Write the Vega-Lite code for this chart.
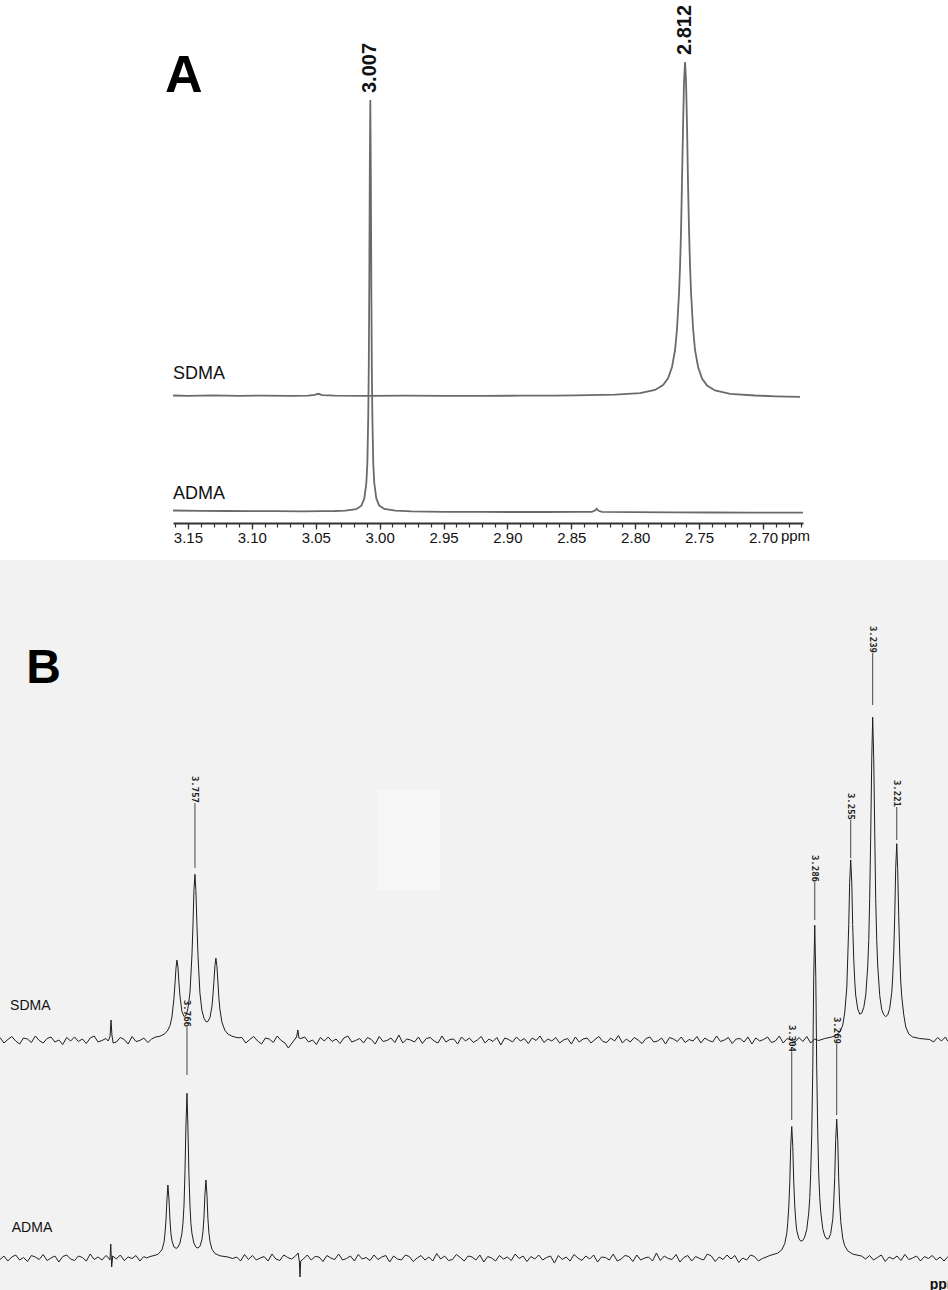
{
"$schema": "https://vega.github.io/schema/vega-lite/v6.json",
"width": 948, "height": 1290, "autosize": {"type": "none"}, "padding": 0,
"background": "white",
"config": {"view": {"stroke": null}, "axis": {"grid": false}},
"datasets": {
"aS": [
{"p":3.1617,"v":0.5},{"p":3.15,"v":0.2},{"p":3.13,"v":0.6},{"p":3.11,"v":0.1},{"p":3.09,"v":0.4},{"p":3.07,"v":0.2},{"p":3.056,"v":0.4},{"p":3.051,"v":1.2},{"p":3.048,"v":2.2},{"p":3.045,"v":0.8},{"p":3.035,"v":0.3},{"p":3.01,"v":0.2},{"p":2.98,"v":0.3},{"p":2.95,"v":0.1},{"p":2.92,"v":0.2},{"p":2.89,"v":0.3},{"p":2.865,"v":0.3},{"p":2.8471,"v":0.6},{"p":2.8158,"v":1.3},{"p":2.7962,"v":2.8},{"p":2.7845,"v":6},{"p":2.7782,"v":10.9},{"p":2.7743,"v":17.7},{"p":2.7712,"v":29},{"p":2.7688,"v":46},{"p":2.7673,"v":67},{"p":2.7657,"v":103},{"p":2.7649,"v":130},{"p":2.7641,"v":167},{"p":2.7634,"v":214},{"p":2.7626,"v":267},{"p":2.7618,"v":314},{"p":2.761,"v":334},{"p":2.7602,"v":314},{"p":2.7594,"v":267},{"p":2.7587,"v":214},{"p":2.7579,"v":167},{"p":2.7571,"v":130},{"p":2.7563,"v":103},{"p":2.7547,"v":67},{"p":2.7532,"v":46},{"p":2.7508,"v":29},{"p":2.7477,"v":17.5},{"p":2.7438,"v":10.5},{"p":2.7375,"v":5.5},{"p":2.7258,"v":2.2},{"p":2.7062,"v":0.5},{"p":2.69,"v":-0.3},{"p":2.6711,"v":-0.8}
],
"aA": [
{"p":3.1617,"v":1.5},{"p":3.14,"v":1.2},{"p":3.12,"v":1.0},{"p":3.10,"v":0.8},{"p":3.08,"v":0.9},{"p":3.06,"v":0.6},{"p":3.045,"v":0.8},{"p":3.035,"v":1.0},{"p":3.0269,"v":1.4},{"p":3.0183,"v":2.8},{"p":3.0143,"v":6.3},{"p":3.012,"v":13.5},{"p":3.0104,"v":29},{"p":3.0096,"v":49},{"p":3.0089,"v":96},{"p":3.0085,"v":144},{"p":3.0081,"v":226},{"p":3.0077,"v":341},{"p":3.0073,"v":412},{"p":3.0069,"v":341},{"p":3.0065,"v":226},{"p":3.0061,"v":144},{"p":3.0057,"v":96},{"p":3.005,"v":49},{"p":3.0042,"v":29},{"p":3.0026,"v":13.6},{"p":3.0003,"v":6.4},{"p":2.9963,"v":3.0},{"p":2.9877,"v":1.3},{"p":2.975,"v":0.6},{"p":2.95,"v":0.2},{"p":2.92,"v":0.1},{"p":2.90,"v":0},{"p":2.87,"v":0},{"p":2.845,"v":0.1},{"p":2.834,"v":0.2},{"p":2.8315,"v":1.5},{"p":2.8301,"v":3.2},{"p":2.8287,"v":1.2},{"p":2.826,"v":0.1},{"p":2.80,"v":-0.2},{"p":2.77,"v":-0.3},{"p":2.74,"v":-0.5},{"p":2.71,"v":-0.6},{"p":2.6687,"v":-0.7}
],
"bS": [
{"p":3.909,"v":2.5},{"p":3.906,"v":-3},{"p":3.903,"v":0.5},{"p":3.9,"v":3.5},{"p":3.897,"v":-1},{"p":3.894,"v":-4},{"p":3.891,"v":2},{"p":3.888,"v":1},{"p":3.885,"v":-2.5},{"p":3.882,"v":4},{"p":3.879,"v":-0.5},{"p":3.876,"v":-3},{"p":3.873,"v":1.5},{"p":3.87,"v":3},{"p":3.867,"v":-2},{"p":3.864,"v":0},{"p":3.861,"v":-4.5},{"p":3.858,"v":2.5},{"p":3.855,"v":-1},{"p":3.852,"v":3},{"p":3.849,"v":-1.5},{"p":3.846,"v":1},{"p":3.843,"v":-3.5},{"p":3.84,"v":2},{"p":3.837,"v":4},{"p":3.834,"v":-2},{"p":3.831,"v":-0.5},{"p":3.828,"v":1.5},
{"p":3.8262,"v":-1},{"p":3.8248,"v":4},{"p":3.8241,"v":20},{"p":3.8234,"v":5},{"p":3.8225,"v":-3},
{"p":3.82,"v":-2},{"p":3.817,"v":2.5},{"p":3.814,"v":0.5},{"p":3.811,"v":-4},{"p":3.808,"v":3.5},{"p":3.805,"v":-1.5},{"p":3.802,"v":-0.5},{"p":3.799,"v":2},{"p":3.796,"v":-2.5},{"p":3.793,"v":1},{"p":3.79,"v":3},
{"p":3.7867,"v":3.7},{"p":3.7829,"v":6.3},{"p":3.7806,"v":9.9},{"p":3.779,"v":14.4},{"p":3.7775,"v":23},{"p":3.776,"v":41.2},{"p":3.7752,"v":56},{"p":3.7744,"v":71.9},{"p":3.7737,"v":79.9},{"p":3.7729,"v":72.9},{"p":3.7722,"v":57.9},{"p":3.7714,"v":44.3},{"p":3.7699,"v":28.6},{"p":3.7683,"v":23.5},{"p":3.7668,"v":24.5},{"p":3.7653,"v":31.3},{"p":3.7637,"v":47.7},{"p":3.7622,"v":85.1},{"p":3.7614,"v":116},{"p":3.7607,"v":149.5},{"p":3.7599,"v":165.7},{"p":3.7592,"v":149.4},{"p":3.7584,"v":115.6},{"p":3.7576,"v":84.7},{"p":3.7561,"v":46.9},{"p":3.7546,"v":29.7},{"p":3.753,"v":21.8},{"p":3.7515,"v":18.4},{"p":3.7507,"v":18.2},{"p":3.75,"v":18.5},{"p":3.7484,"v":22.5},{"p":3.7469,"v":33.6},{"p":3.7462,"v":44},{"p":3.7454,"v":58.5},{"p":3.7446,"v":74.3},{"p":3.7439,"v":81.8},{"p":3.7431,"v":73.6},{"p":3.7423,"v":57.2},{"p":3.7416,"v":41.8},{"p":3.7408,"v":30.6},{"p":3.7393,"v":17.8},{"p":3.737,"v":9.6},{"p":3.7347,"v":6.0},{"p":3.7316,"v":3.8},{"p":3.727,"v":2.2},
{"p":3.724,"v":2.5},{"p":3.721,"v":-3},{"p":3.718,"v":0.5},{"p":3.715,"v":3.5},{"p":3.712,"v":-1},{"p":3.709,"v":-4},{"p":3.706,"v":2},{"p":3.703,"v":1},{"p":3.7,"v":-2.5},{"p":3.697,"v":4},{"p":3.694,"v":-0.5},{"p":3.691,"v":-3},{"p":3.6885,"v":-8},{"p":3.6822,"v":3},{"p":3.6812,"v":10},{"p":3.6804,"v":2},
{"p":3.679,"v":1.5},{"p":3.676,"v":3},{"p":3.673,"v":-2},{"p":3.67,"v":0},{"p":3.667,"v":-4.5},{"p":3.664,"v":2.5},{"p":3.661,"v":-1},{"p":3.658,"v":3},{"p":3.655,"v":-1.5},{"p":3.652,"v":1},{"p":3.649,"v":-3.5},{"p":3.646,"v":2},{"p":3.643,"v":4},{"p":3.64,"v":-2},{"p":3.637,"v":-0.5},{"p":3.634,"v":1.5},{"p":3.631,"v":-3},{"p":3.628,"v":2.5},{"p":3.625,"v":0.5},{"p":3.622,"v":-4},{"p":3.619,"v":3.5},{"p":3.616,"v":-1.5},{"p":3.613,"v":-0.5},{"p":3.61,"v":2},{"p":3.607,"v":-2.5},{"p":3.604,"v":5},{"p":3.601,"v":-3},{"p":3.598,"v":1},{"p":3.595,"v":0},{"p":3.592,"v":-2},{"p":3.589,"v":3},{"p":3.586,"v":-3.5},{"p":3.583,"v":1.5},{"p":3.58,"v":2.5},{"p":3.577,"v":-1},{"p":3.574,"v":-3},{"p":3.571,"v":4},{"p":3.568,"v":-2},{"p":3.565,"v":0.5},{"p":3.562,"v":1},{"p":3.559,"v":-4},{"p":3.556,"v":3},{"p":3.553,"v":-1},{"p":3.55,"v":2},{"p":3.547,"v":-2.5},{"p":3.544,"v":0},{"p":3.541,"v":3.5},{"p":3.538,"v":-3},{"p":3.535,"v":1},{"p":3.532,"v":-1.5},{"p":3.529,"v":2.5},{"p":3.526,"v":-5},{"p":3.523,"v":2},{"p":3.52,"v":0.5},{"p":3.517,"v":-2},{"p":3.514,"v":3},{"p":3.511,"v":-1},{"p":3.508,"v":1.5},{"p":3.505,"v":-3.5},{"p":3.502,"v":2},{"p":3.499,"v":-0.5},{"p":3.496,"v":4},{"p":3.493,"v":-2.5},{"p":3.49,"v":1},{"p":3.487,"v":-1},{"p":3.484,"v":2.5},{"p":3.481,"v":-3},{"p":3.478,"v":0},{"p":3.475,"v":1.5},{"p":3.472,"v":-4},{"p":3.469,"v":3},{"p":3.466,"v":-2},{"p":3.463,"v":1},{"p":3.46,"v":2},{"p":3.457,"v":-3},{"p":3.454,"v":0.5},{"p":3.451,"v":3.5},{"p":3.448,"v":-1.5},{"p":3.445,"v":-2.5},{"p":3.442,"v":2},{"p":3.439,"v":-1},{"p":3.436,"v":4.5},{"p":3.433,"v":-3},{"p":3.43,"v":1},{"p":3.427,"v":-2},{"p":3.424,"v":2.5},{"p":3.421,"v":0},{"p":3.418,"v":-3.5},{"p":3.415,"v":1.5},{"p":3.412,"v":3},{"p":3.409,"v":-2},{"p":3.406,"v":-1},{"p":3.403,"v":2},{"p":3.4,"v":-4},{"p":3.397,"v":2.5},{"p":3.394,"v":1},{"p":3.391,"v":-1.5},{"p":3.388,"v":3},{"p":3.385,"v":-2.5},{"p":3.382,"v":0.5},{"p":3.379,"v":-1},{"p":3.376,"v":3.5},{"p":3.373,"v":-3},{"p":3.37,"v":2},{"p":3.367,"v":-0.5},{"p":3.364,"v":-2},{"p":3.361,"v":4},{"p":3.358,"v":-1.5},{"p":3.355,"v":0},{"p":3.352,"v":2.5},{"p":3.349,"v":-3.5},{"p":3.346,"v":1},{"p":3.343,"v":1.5},{"p":3.34,"v":-2},{"p":3.337,"v":3},{"p":3.334,"v":-4},{"p":3.331,"v":2},{"p":3.328,"v":-1},{"p":3.325,"v":0.5},{"p":3.322,"v":3},{"p":3.319,"v":-2.5},{"p":3.316,"v":-1},{"p":3.313,"v":4},{"p":3.31,"v":-3},{"p":3.307,"v":1.5},{"p":3.304,"v":0},{"p":3.301,"v":-2},{"p":3.298,"v":2.5},{"p":3.295,"v":-1.5},{"p":3.292,"v":3.5},{"p":3.289,"v":-3},{"p":3.286,"v":1},{"p":3.283,"v":-0.5},
{"p":3.2783,"v":1.5},{"p":3.2729,"v":3},{"p":3.2699,"v":4.5},{"p":3.2676,"v":7},{"p":3.266,"v":10},{"p":3.2645,"v":15},{"p":3.263,"v":27},{"p":3.2614,"v":52},{"p":3.2607,"v":81.1},{"p":3.2599,"v":115.6},{"p":3.2592,"v":157.6},{"p":3.2584,"v":180.1},{"p":3.2576,"v":157.9},{"p":3.2569,"v":115.6},{"p":3.2561,"v":81.2},{"p":3.2553,"v":58.7},{"p":3.2546,"v":44.9},{"p":3.253,"v":31},{"p":3.2515,"v":25.8},{"p":3.25,"v":26.8},{"p":3.2484,"v":32.7},{"p":3.2469,"v":44.9},{"p":3.2454,"v":73.2},{"p":3.2446,"v":99.6},{"p":3.2439,"v":141.5},{"p":3.2431,"v":204.9},{"p":3.2423,"v":281.8},{"p":3.2416,"v":322.8},{"p":3.2408,"v":281.8},{"p":3.24,"v":204.8},{"p":3.2393,"v":141.4},{"p":3.2385,"v":99.5},{"p":3.2377,"v":73},{"p":3.2362,"v":44.4},{"p":3.2347,"v":30.5},{"p":3.2332,"v":25.4},{"p":3.2316,"v":23.4},{"p":3.2301,"v":25},{"p":3.2286,"v":31.4},{"p":3.227,"v":47.4},{"p":3.2263,"v":63},{"p":3.2255,"v":87.9},{"p":3.2247,"v":125.8},{"p":3.224,"v":171.8},{"p":3.2232,"v":196.3},{"p":3.2225,"v":171.2},{"p":3.2217,"v":124.4},{"p":3.2209,"v":85.7},{"p":3.2202,"v":60.1},{"p":3.2194,"v":43.8},{"p":3.2179,"v":25.8},{"p":3.2163,"v":13},{"p":3.214,"v":6},{"p":3.211,"v":3},{"p":3.2056,"v":1.5},{"p":3.198,"v":0.5},
{"p":3.195,"v":-2},{"p":3.192,"v":2.5},{"p":3.189,"v":-1},{"p":3.186,"v":3},{"p":3.184,"v":-1.5}
],
"bA": [
{"p":3.909,"v":-1.5},{"p":3.906,"v":2},{"p":3.903,"v":-3},{"p":3.9,"v":1},{"p":3.897,"v":3},{"p":3.894,"v":-2},{"p":3.891,"v":0.5},{"p":3.888,"v":-3.5},{"p":3.885,"v":2.5},{"p":3.882,"v":1},{"p":3.879,"v":-1.5},{"p":3.876,"v":3.5},{"p":3.873,"v":-2.5},{"p":3.87,"v":0},{"p":3.867,"v":2},{"p":3.864,"v":-4},{"p":3.861,"v":1.5},{"p":3.858,"v":3},{"p":3.855,"v":-1},{"p":3.852,"v":-2.5},{"p":3.849,"v":2},{"p":3.846,"v":0.5},{"p":3.843,"v":-3},{"p":3.84,"v":4},{"p":3.837,"v":-1.5},{"p":3.834,"v":1},{"p":3.831,"v":-2},{"p":3.828,"v":2.5},
{"p":3.8262,"v":0.5},{"p":3.8249,"v":-2},{"p":3.8243,"v":14},{"p":3.8236,"v":-9},{"p":3.8228,"v":2},
{"p":3.82,"v":-1},{"p":3.817,"v":3},{"p":3.814,"v":-2.5},{"p":3.811,"v":1},{"p":3.808,"v":-0.5},{"p":3.805,"v":2.5},{"p":3.802,"v":-3},{"p":3.799,"v":1.5},{"p":3.797,"v":0},
{"p":3.7943,"v":1.4},{"p":3.7882,"v":3.6},{"p":3.7851,"v":8.3},{"p":3.7836,"v":15.6},{"p":3.7829,"v":23.3},{"p":3.7821,"v":37.1},{"p":3.7813,"v":58.6},{"p":3.7806,"v":73},{"p":3.7798,"v":59},{"p":3.779,"v":37.9},{"p":3.7783,"v":24.5},{"p":3.7775,"v":17.3},{"p":3.776,"v":11.1},{"p":3.7744,"v":9.7},{"p":3.7737,"v":9.9},{"p":3.7729,"v":10.8},{"p":3.7714,"v":14.9},{"p":3.7699,"v":24.4},{"p":3.7691,"v":34.4},{"p":3.7683,"v":51.9},{"p":3.7676,"v":83.1},{"p":3.7668,"v":132},{"p":3.766,"v":164.7},{"p":3.7653,"v":132.1},{"p":3.7645,"v":83.2},{"p":3.7637,"v":51.9},{"p":3.763,"v":34.5},{"p":3.7622,"v":24.4},{"p":3.7607,"v":14.8},{"p":3.7592,"v":11.0},{"p":3.7584,"v":10.2},{"p":3.7576,"v":10.0},{"p":3.7561,"v":11.7},{"p":3.7546,"v":18.2},{"p":3.7538,"v":26.1},{"p":3.753,"v":40.4},{"p":3.7523,"v":63},{"p":3.7515,"v":78},{"p":3.7507,"v":62.6},{"p":3.75,"v":39.6},{"p":3.7492,"v":24.8},{"p":3.7484,"v":16.5},{"p":3.7469,"v":8.7},{"p":3.7446,"v":4.5},{"p":3.7408,"v":2.2},{"p":3.7347,"v":1.0},
{"p":3.731,"v":-0.5},{"p":3.728,"v":1},{"p":3.725,"v":-3},{"p":3.722,"v":3.5},{"p":3.719,"v":-1.5},{"p":3.716,"v":2.5},{"p":3.713,"v":-2},{"p":3.71,"v":0},{"p":3.707,"v":1.5},{"p":3.704,"v":-3},{"p":3.701,"v":4},{"p":3.698,"v":-1},{"p":3.695,"v":-2.5},{"p":3.692,"v":3},{"p":3.689,"v":0.5},{"p":3.686,"v":-1},{"p":3.683,"v":2},{"p":3.681,"v":5},{"p":3.68,"v":-4},{"p":3.6796,"v":-19},{"p":3.679,"v":-3},
{"p":3.677,"v":-1},{"p":3.674,"v":3},{"p":3.671,"v":-2},{"p":3.668,"v":1.5},{"p":3.665,"v":1},{"p":3.662,"v":-3.5},{"p":3.659,"v":2.5},{"p":3.656,"v":0},{"p":3.653,"v":-1.5},{"p":3.65,"v":4},{"p":3.647,"v":-2},{"p":3.644,"v":-0.5},{"p":3.641,"v":2},{"p":3.638,"v":-3},{"p":3.635,"v":3.5},{"p":3.632,"v":-1},{"p":3.629,"v":0.5},{"p":3.626,"v":-2.5},{"p":3.623,"v":3},{"p":3.62,"v":-1.5},{"p":3.617,"v":1},{"p":3.614,"v":2.5},{"p":3.611,"v":-4},{"p":3.608,"v":2},{"p":3.605,"v":-1},{"p":3.602,"v":-2},{"p":3.599,"v":3},{"p":3.596,"v":1.5},{"p":3.593,"v":-3.5},{"p":3.59,"v":0},{"p":3.587,"v":2.5},{"p":3.584,"v":-2},{"p":3.581,"v":1},{"p":3.578,"v":-3},{"p":3.575,"v":4.5},{"p":3.572,"v":-1},{"p":3.569,"v":2},{"p":3.566,"v":-2.5},{"p":3.563,"v":-1.5},{"p":3.56,"v":3.5},{"p":3.557,"v":0.5},{"p":3.554,"v":-3},{"p":3.551,"v":2},{"p":3.548,"v":1},{"p":3.545,"v":-2},{"p":3.542,"v":3},{"p":3.539,"v":-4},{"p":3.536,"v":1.5},{"p":3.533,"v":0},{"p":3.53,"v":-3},{"p":3.527,"v":2.5},{"p":3.524,"v":-1},{"p":3.521,"v":1},{"p":3.518,"v":-2.5},{"p":3.515,"v":4},{"p":3.512,"v":-0.5},{"p":3.509,"v":2},{"p":3.506,"v":-3.5},{"p":3.503,"v":1.5},{"p":3.5,"v":-1},{"p":3.497,"v":3},{"p":3.494,"v":-2},{"p":3.491,"v":0.5},{"p":3.488,"v":2},{"p":3.485,"v":-5},{"p":3.482,"v":2.5},{"p":3.479,"v":-1.5},{"p":3.476,"v":1},{"p":3.473,"v":-3},{"p":3.47,"v":3.5},{"p":3.467,"v":0},{"p":3.464,"v":-2.5},{"p":3.461,"v":2},{"p":3.458,"v":-1},{"p":3.455,"v":3},{"p":3.452,"v":-4},{"p":3.449,"v":1},{"p":3.446,"v":0.5},{"p":3.443,"v":-2},{"p":3.44,"v":4},{"p":3.437,"v":-3},{"p":3.434,"v":-1},{"p":3.431,"v":2.5},{"p":3.428,"v":1.5},{"p":3.425,"v":-3.5},{"p":3.422,"v":3},{"p":3.419,"v":-2},{"p":3.416,"v":0},{"p":3.413,"v":1},{"p":3.41,"v":-3},{"p":3.407,"v":5},{"p":3.404,"v":-2.5},{"p":3.401,"v":2},{"p":3.398,"v":-0.5},{"p":3.395,"v":-1.5},{"p":3.392,"v":3.5},{"p":3.389,"v":-4},{"p":3.386,"v":0.5},{"p":3.383,"v":2.5},{"p":3.38,"v":-3},{"p":3.377,"v":1.5},{"p":3.374,"v":-0.5},{"p":3.371,"v":-2},{"p":3.368,"v":4},{"p":3.365,"v":2},{"p":3.362,"v":-3.5},{"p":3.359,"v":1},{"p":3.356,"v":-1.5},{"p":3.353,"v":3},{"p":3.35,"v":-1},{"p":3.347,"v":2.5},{"p":3.344,"v":-4.5},{"p":3.341,"v":0},{"p":3.338,"v":-2},{"p":3.335,"v":3},{"p":3.332,"v":1.5},{"p":3.329,"v":-3},{"p":3.326,"v":-0.5},{"p":3.323,"v":1},
{"p":3.3203,"v":2.5},{"p":3.3142,"v":4.9},{"p":3.3111,"v":8.2},{"p":3.3088,"v":14.6},{"p":3.3073,"v":24.7},{"p":3.3066,"v":34.3},{"p":3.3058,"v":50.1},{"p":3.305,"v":75.8},{"p":3.3043,"v":110.7},{"p":3.3035,"v":131.5},{"p":3.3027,"v":111.5},{"p":3.302,"v":77},{"p":3.3012,"v":51.9},{"p":3.3004,"v":36.8},{"p":3.2997,"v":27.8},{"p":3.2981,"v":19.5},{"p":3.2966,"v":16.9},{"p":3.2951,"v":17.5},{"p":3.2936,"v":20.9},{"p":3.292,"v":28.6},{"p":3.2905,"v":45.2},{"p":3.2897,"v":60.4},{"p":3.289,"v":84.7},{"p":3.2882,"v":124.7},{"p":3.2874,"v":190.4},{"p":3.2867,"v":279.9},{"p":3.2859,"v":332.8},{"p":3.2851,"v":280.3},{"p":3.2844,"v":190.7},{"p":3.2836,"v":125.1},{"p":3.2829,"v":85.1},{"p":3.2821,"v":60.6},{"p":3.2813,"v":45.8},{"p":3.2798,"v":29.5},{"p":3.2783,"v":22},{"p":3.2767,"v":19},{"p":3.2752,"v":19.4},{"p":3.2737,"v":24.4},{"p":3.2721,"v":39.3},{"p":3.2714,"v":55.2},{"p":3.2706,"v":81.6},{"p":3.2699,"v":117.7},{"p":3.2691,"v":138.9},{"p":3.2683,"v":117.1},{"p":3.2676,"v":80.2},{"p":3.2668,"v":52.9},{"p":3.266,"v":36.3},{"p":3.2645,"v":19.7},{"p":3.263,"v":12.3},{"p":3.2607,"v":7.2},{"p":3.2569,"v":3.9},{"p":3.25,"v":1.9},
{"p":3.247,"v":-1},{"p":3.244,"v":2.5},{"p":3.241,"v":-2},{"p":3.238,"v":0.5},{"p":3.235,"v":3},{"p":3.232,"v":-3.5},{"p":3.229,"v":1},{"p":3.226,"v":-1},{"p":3.223,"v":2},{"p":3.22,"v":-2.5},{"p":3.217,"v":3.5},{"p":3.214,"v":-1.5},{"p":3.211,"v":0},{"p":3.208,"v":2},{"p":3.205,"v":-3},{"p":3.202,"v":1.5},{"p":3.199,"v":-0.5},{"p":3.196,"v":2.5},{"p":3.193,"v":-2},{"p":3.19,"v":1},{"p":3.187,"v":-3},{"p":3.184,"v":1.5}
],
"lab": [
{"t":"aS","k":"peak","p":2.761,"v":341,"label":"2.812"},
{"t":"aS","k":"name","p":3.1617,"v":17,"label":"SDMA"},
{"t":"aS","k":"panel","p":3.168,"v":304,"label":"A"},
{"t":"aA","k":"peak","p":3.0073,"v":419,"label":"3.007"},
{"t":"aA","k":"name","p":3.1617,"v":13,"label":"ADMA"},
{"t":"aA","k":"unit","p":2.686,"v":-24,"label":"ppm"},
{"t":"bS","k":"peak","p":3.7599,"v":237,"v2":172,"label":"3.757"},
{"t":"bS","k":"peak","p":3.2584,"v":220,"v2":182,"label":"3.255"},
{"t":"bS","k":"peak","p":3.2416,"v":387,"v2":335,"label":"3.239"},
{"t":"bS","k":"peak","p":3.2232,"v":233,"v2":200,"label":"3.221"},
{"t":"bS","k":"name","p":3.9013,"v":30,"label":"SDMA"},
{"t":"bS","k":"panel","p":3.889,"v":357,"label":"B"},
{"t":"bA","k":"peak","p":3.766,"v":231,"v2":183,"label":"3.766"},
{"t":"bA","k":"peak","p":3.3035,"v":206,"v2":138,"label":"3.304"},
{"t":"bA","k":"peak","p":3.2859,"v":376,"v2":338,"label":"3.286"},
{"t":"bA","k":"peak","p":3.2691,"v":214,"v2":143,"label":"3.269"},
{"t":"bA","k":"name","p":3.9,"v":26,"label":"ADMA"},
{"t":"bA","k":"unit","p":3.198,"v":-27,"label":"ppm"}
],
"bg": [
{"k":"paper","p":3.95,"p2":3.15,"v":-60,"v2":698},
{"k":"patch","p":3.62,"p2":3.5726,"v":368,"v2":468}
]
},
"resolve": {"scale": {"x": "independent", "y": "independent"}, "axis": {"x": "independent", "y": "independent"}},
"layer": [
{
"encoding": {
"x": {"field": "p", "type": "quantitative", "scale": {"domain": [2.6687, 3.1617], "range": [803, 173], "zero": false, "nice": false},
 "axis": {"orient": "bottom", "offset": -767, "values": [3.16,3.15,3.14,3.13,3.12,3.11,3.1,3.09,3.08,3.07,3.06,3.05,3.04,3.03,3.02,3.01,3.0,2.99,2.98,2.97,2.96,2.95,2.94,2.93,2.92,2.91,2.9,2.89,2.88,2.87,2.86,2.85,2.84,2.83,2.82,2.81,2.8,2.79,2.78,2.77,2.76,2.75,2.74,2.73,2.72,2.71,2.7,2.69,2.68,2.67], "labels": false, "domain": false, "ticks": true, "tickSize": 4, "tickColor": "#333", "tickWidth": 1.2, "title": null, "grid": false}},
"y": {"field": "v", "type": "quantitative", "scale": {"domain": [0, 1000], "range": [396, -604], "zero": false, "nice": false}, "axis": null}
},
"layer": [
{"data": {"name": "aS"}, "mark": {"type": "line", "color": "#6a6a6a", "strokeWidth": 1.8}},
{"data": {"name": "lab"}, "transform": [{"filter": "datum.t === 'aS' && datum.k === 'peak'"}], "mark": {"type": "text", "angle": 270, "align": "left", "baseline": "middle", "font": "Liberation Sans", "fontSize": 20, "fontWeight": "bold", "color": "#111"}, "encoding": {"text": {"field": "label", "type": "nominal"}}},
{"data": {"name": "lab"}, "transform": [{"filter": "datum.t === 'aS' && datum.k === 'name'"}], "mark": {"type": "text", "align": "left", "baseline": "alphabetic", "font": "Liberation Sans", "fontSize": 18, "color": "#111"}, "encoding": {"text": {"field": "label", "type": "nominal"}}},
{"data": {"name": "lab"}, "transform": [{"filter": "datum.t === 'aS' && datum.k === 'panel'"}], "mark": {"type": "text", "align": "left", "baseline": "alphabetic", "font": "Liberation Sans", "fontSize": 52, "fontWeight": "bold", "color": "#000"}, "encoding": {"text": {"field": "label", "type": "nominal"}}}
]
},
{
"encoding": {
"x": {"field": "p", "type": "quantitative", "scale": {"domain": [2.6687, 3.1617], "range": [803, 173], "zero": false, "nice": false},
 "axis": {"orient": "bottom", "offset": -767, "values": [3.15,3.1,3.05,3.0,2.95,2.9,2.85,2.8,2.75,2.7], "format": ".2f", "tickSize": 6, "tickColor": "#333", "tickWidth": 1.3, "domainColor": "#333", "domainWidth": 1.8, "labelFont": "Liberation Sans", "labelFontSize": 15, "labelColor": "#111", "labelPadding": 1, "labelOverlap": false, "labelFlush": false, "title": null, "grid": false}},
"y": {"field": "v", "type": "quantitative", "scale": {"domain": [0, 1000], "range": [512, -488], "zero": false, "nice": false}, "axis": null}
},
"layer": [
{"data": {"name": "aA"}, "mark": {"type": "line", "color": "#6a6a6a", "strokeWidth": 1.8}},
{"data": {"name": "lab"}, "transform": [{"filter": "datum.t === 'aA' && datum.k === 'peak'"}], "mark": {"type": "text", "angle": 270, "align": "left", "baseline": "middle", "font": "Liberation Sans", "fontSize": 20, "fontWeight": "bold", "color": "#111"}, "encoding": {"text": {"field": "label", "type": "nominal"}}},
{"data": {"name": "lab"}, "transform": [{"filter": "datum.t === 'aA' && datum.k === 'name'"}], "mark": {"type": "text", "align": "left", "baseline": "alphabetic", "font": "Liberation Sans", "fontSize": 18, "color": "#111"}, "encoding": {"text": {"field": "label", "type": "nominal"}}},
{"data": {"name": "lab"}, "transform": [{"filter": "datum.t === 'aA' && datum.k === 'unit'"}], "mark": {"type": "text", "align": "left", "baseline": "middle", "font": "Liberation Sans", "fontSize": 15, "color": "#111"}, "encoding": {"text": {"field": "label", "type": "nominal"}}}
]
},
{
"encoding": {
"x": {"field": "p", "type": "quantitative", "scale": {"domain": [3.184, 3.909], "range": [948, 0], "zero": false, "nice": false},
 "axis": {"orient": "bottom", "offset": -23, "values": [3.8,3.7,3.6,3.5,3.4,3.3], "format": ".1f", "tickSize": 6, "tickColor": "#111", "tickWidth": 1.3, "domainColor": "#111", "domainWidth": 2, "labelFont": "Liberation Sans", "labelFontSize": 14, "labelFontWeight": "bold", "labelColor": "#111", "labelPadding": 4, "labelOverlap": false, "labelFlush": false, "title": null, "grid": false}},
"y": {"field": "v", "type": "quantitative", "scale": {"domain": [0, 1000], "range": [1258, 258], "zero": false, "nice": false}, "axis": null}
},
"layer": [
{"data": {"name": "bg"}, "transform": [{"filter": "datum.k === 'paper'"}], "mark": {"type": "rect", "color": "#f2f2f2"}, "encoding": {"x2": {"field": "p2"}, "y2": {"field": "v2"}}},
{"data": {"name": "bg"}, "transform": [{"filter": "datum.k === 'patch'"}], "mark": {"type": "rect", "color": "#f7f7f7"}, "encoding": {"x2": {"field": "p2"}, "y2": {"field": "v2"}}},
{"data": {"name": "bA"}, "mark": {"type": "line", "color": "#1e1e1e", "strokeWidth": 1.0}},
{"data": {"name": "lab"}, "transform": [{"filter": "datum.t === 'bA' && datum.k === 'peak'"}], "mark": {"type": "rule", "color": "#333", "strokeWidth": 0.9}, "encoding": {"y2": {"field": "v2"}}},
{"data": {"name": "lab"}, "transform": [{"filter": "datum.t === 'bA' && datum.k === 'peak'"}], "mark": {"type": "text", "angle": 90, "align": "right", "baseline": "middle", "font": "DejaVu Sans Mono", "fontSize": 9, "fontWeight": "bold", "color": "#222"}, "encoding": {"text": {"field": "label", "type": "nominal"}}},
{"data": {"name": "lab"}, "transform": [{"filter": "datum.t === 'bA' && datum.k === 'name'"}], "mark": {"type": "text", "align": "left", "baseline": "alphabetic", "font": "Liberation Sans", "fontSize": 14, "color": "#111"}, "encoding": {"text": {"field": "label", "type": "nominal"}}},
{"data": {"name": "lab"}, "transform": [{"filter": "datum.t === 'bA' && datum.k === 'unit'"}], "mark": {"type": "text", "align": "left", "baseline": "middle", "font": "Liberation Sans", "fontSize": 14, "fontWeight": "bold", "color": "#111"}, "encoding": {"text": {"field": "label", "type": "nominal"}}}
]
},
{
"encoding": {
"x": {"field": "p", "type": "quantitative", "scale": {"domain": [3.184, 3.909], "range": [948, 0], "zero": false, "nice": false},
 "axis": {"orient": "bottom", "offset": -23, "values": [3.9,3.88,3.86,3.84,3.82,3.8,3.78,3.76,3.74,3.72,3.7,3.68,3.66,3.64,3.62,3.6,3.58,3.56,3.54,3.52,3.5,3.48,3.46,3.44,3.42,3.4,3.38,3.36,3.34,3.32,3.3,3.28,3.26,3.24,3.22,3.2], "labels": false, "domain": false, "ticks": true, "tickSize": 3, "tickColor": "#222", "tickWidth": 1, "title": null, "grid": false}},
"y": {"field": "v", "type": "quantitative", "scale": {"domain": [0, 1000], "range": [1040, 40], "zero": false, "nice": false}, "axis": null}
},
"layer": [
{"data": {"name": "bS"}, "mark": {"type": "line", "color": "#1e1e1e", "strokeWidth": 1.0}},
{"data": {"name": "lab"}, "transform": [{"filter": "datum.t === 'bS' && datum.k === 'peak'"}], "mark": {"type": "rule", "color": "#333", "strokeWidth": 0.9}, "encoding": {"y2": {"field": "v2"}}},
{"data": {"name": "lab"}, "transform": [{"filter": "datum.t === 'bS' && datum.k === 'peak'"}], "mark": {"type": "text", "angle": 90, "align": "right", "baseline": "middle", "font": "DejaVu Sans Mono", "fontSize": 9, "fontWeight": "bold", "color": "#222"}, "encoding": {"text": {"field": "label", "type": "nominal"}}},
{"data": {"name": "lab"}, "transform": [{"filter": "datum.t === 'bS' && datum.k === 'name'"}], "mark": {"type": "text", "align": "left", "baseline": "alphabetic", "font": "Liberation Sans", "fontSize": 14, "color": "#111"}, "encoding": {"text": {"field": "label", "type": "nominal"}}},
{"data": {"name": "lab"}, "transform": [{"filter": "datum.t === 'bS' && datum.k === 'panel'"}], "mark": {"type": "text", "align": "left", "baseline": "alphabetic", "font": "Liberation Sans", "fontSize": 48, "fontWeight": "bold", "color": "#000"}, "encoding": {"text": {"field": "label", "type": "nominal"}}}
]
}
]
}
